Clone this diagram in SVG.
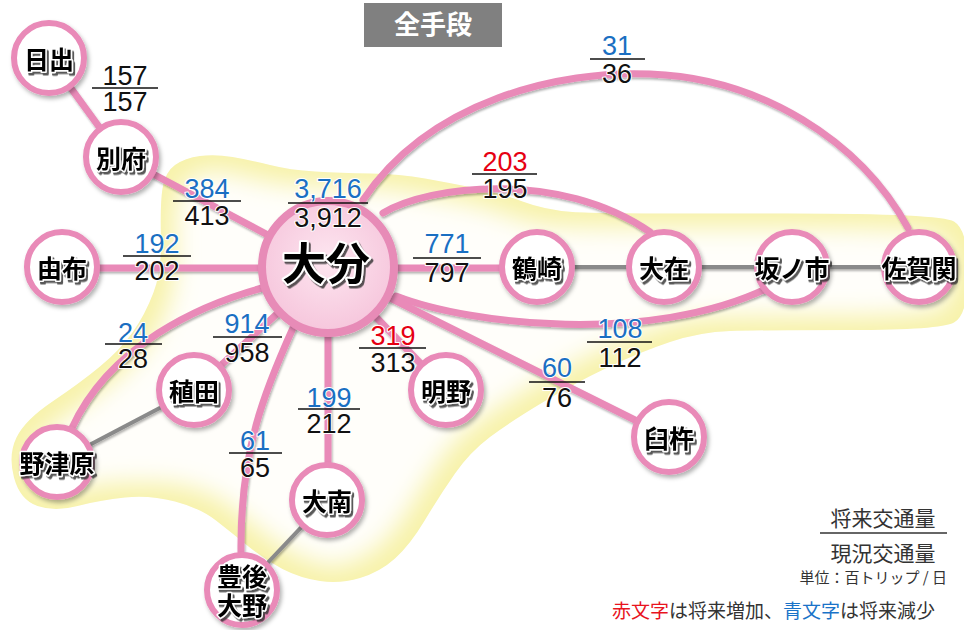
<svg xmlns="http://www.w3.org/2000/svg" width="964" height="630" viewBox="0 0 964 630">
<defs>
<style>
.pe{fill:none;stroke:#e98ab8;stroke-width:7;stroke-linecap:round}
.ge{fill:none;stroke:#8a8a8a;stroke-width:4}
.nc{fill:#fff;stroke:#e98ab8;stroke-width:6}
.nt{font-family:"Noto Sans CJK JP","Noto Sans CJK SC",sans-serif;font-weight:700;font-size:25px;fill:#000;stroke:#fff;stroke-width:3;paint-order:stroke;stroke-linejoin:round;text-anchor:middle}
.v{font-family:"Liberation Sans",Arial,sans-serif;font-size:27px;text-anchor:middle;stroke:#fff;stroke-width:2;paint-order:stroke;stroke-linejoin:round}
.b{fill:#1a6fc2}.r{fill:#e60012}.k{fill:#111}
.fl{stroke:#111;stroke-width:1.6}
.lg{font-family:"Noto Sans CJK JP","Noto Sans CJK SC",sans-serif;fill:#333}
</style>
<path id="blob" d="M162.5,188.5 Q165,172 175,165 Q185,158 200,156 Q215,154 232.5,157 Q250,160 270,165 Q290,170 315,171.5 Q340,173 370,173.5 Q400,174 425,178.5 Q450,183 475,188 Q500,193 522.5,201.5 Q545,210 572.5,212 Q600,214 770,213.5 Q940,213 954,221.5 Q968,230 968,272.5 Q968,315 954,322.5 Q940,330 850,330 Q760,330 730,331 Q700,332 670,342 Q640,352 607.5,367.5 Q575,383 542.5,402.5 Q510,422 490,437 Q470,452 455,473.5 Q440,495 425,520 Q410,545 395,558.5 Q380,572 360,578 Q340,584 320,581 Q300,578 282.5,569 Q265,560 248.5,546.5 Q232,533 216,520.5 Q200,508 175,501.5 Q150,495 125,497.5 Q100,500 77.5,506 Q55,512 37.5,506 Q20,500 14,477.5 Q8,455 16.5,437.5 Q25,420 52.5,401.5 Q80,383 100,366.5 Q120,350 132.5,332.5 Q145,315 153.5,292.5 Q162,270 161,237.5 Q160,205 162.5,188.5 Z"/>
<clipPath id="blobclip"><use href="#blob"/></clipPath>
<filter id="inner" x="-10%" y="-10%" width="120%" height="120%">
<feMorphology operator="erode" radius="14"/>
<feGaussianBlur stdDeviation="12"/>
</filter>
<filter id="eshadow" x="-5%" y="-5%" width="110%" height="110%">
<feDropShadow dx="1" dy="2" stdDeviation="1" flood-color="#000" flood-opacity="0.3"/>
</filter>
<filter id="cshadow" x="-20%" y="-20%" width="140%" height="140%">
<feDropShadow dx="2" dy="3" stdDeviation="2" flood-color="#000" flood-opacity="0.3"/>
</filter>
<filter id="tshadow" x="-10%" y="-20%" width="130%" height="150%">
<feDropShadow dx="2" dy="2.5" stdDeviation="0.7" flood-color="#333" flood-opacity="0.8"/>
</filter>
<radialGradient id="oita" cx="50%" cy="45%" r="55%">
<stop offset="0" stop-color="#fde6f0"/>
<stop offset="1" stop-color="#f6c6dc"/>
</radialGradient>
</defs>

<rect width="964" height="630" fill="#fff"/>

<g id="area">
<use href="#blob" fill="#f7f2aa"/>
<use href="#blob" fill="#fffefa" filter="url(#inner)" clip-path="url(#blobclip)"/>
</g>

<g id="title">
<rect x="364" y="3" width="138" height="44" fill="#808080"/>
<text x="433" y="34" font-family="Noto Sans CJK JP, sans-serif" font-weight="700" font-size="26" fill="#fff" text-anchor="middle">全手段</text>
</g>

<g id="connectors">
<g filter="url(#eshadow)">
<line class="pe" x1="49" y1="58" x2="121" y2="157"/>
<line class="pe" x1="121" y1="157" x2="328" y2="267"/>
<line class="pe" x1="62" y1="268" x2="328" y2="268"/>
<line class="pe" x1="328" y1="268" x2="537" y2="268"/>
<path class="pe" d="M383,213 C430,185 560,170 650,232"/>
<path class="pe" d="M363,200 C430,100 560,70 650,74 C760,78 860,140 908,228"/>
<path class="pe" d="M396,296 C470,325 650,345 768,288"/>
<line class="pe" x1="328" y1="267" x2="669" y2="437"/>
<line class="pe" x1="328" y1="267" x2="446" y2="390"/>
<line class="pe" x1="328" y1="267" x2="328" y2="500"/>
<path class="pe" d="M293,328 C265,390 240,450 241,552"/>
<line class="pe" x1="328" y1="267" x2="194" y2="390"/>
<path class="pe" d="M262,288 C200,305 110,345 72,428"/>
<line class="ge" x1="537" y1="267" x2="919" y2="267"/>
<line class="ge" x1="194" y1="390" x2="57" y2="462"/>
<line class="ge" x1="327" y1="500" x2="242" y2="590"/>
</g>
</g>

<g id="node-hiji"><circle class="nc" cx="49" cy="58" r="35" filter="url(#cshadow)"/><text class="nt" x="49" y="69" filter="url(#tshadow)">日出</text></g>
<g id="node-beppu"><circle class="nc" cx="121" cy="157" r="35" filter="url(#cshadow)"/><text class="nt" x="121" y="168" filter="url(#tshadow)">別府</text></g>
<g id="node-yufu"><circle class="nc" cx="62" cy="267" r="35" filter="url(#cshadow)"/><text class="nt" x="62" y="278" filter="url(#tshadow)">由布</text></g>
<g id="node-tsurusaki"><circle class="nc" cx="537" cy="267" r="35" filter="url(#cshadow)"/><text class="nt" x="537" y="278" filter="url(#tshadow)">鶴崎</text></g>
<g id="node-ozai"><circle class="nc" cx="664" cy="267" r="35" filter="url(#cshadow)"/><text class="nt" x="664" y="278" filter="url(#tshadow)">大在</text></g>
<g id="node-sakanoichi"><circle class="nc" cx="792" cy="267" r="35" filter="url(#cshadow)"/><text class="nt" x="792" y="278" filter="url(#tshadow)">坂ノ市</text></g>
<g id="node-saganoseki"><circle class="nc" cx="919" cy="267" r="35" filter="url(#cshadow)"/><text class="nt" x="919" y="278" filter="url(#tshadow)">佐賀関</text></g>
<g id="node-wasada"><circle class="nc" cx="194" cy="390" r="35" filter="url(#cshadow)"/><text class="nt" x="194" y="401" filter="url(#tshadow)">稙田</text></g>
<g id="node-notsuharu"><circle class="nc" cx="57" cy="462" r="35" filter="url(#cshadow)"/><text class="nt" x="57" y="473" filter="url(#tshadow)">野津原</text></g>
<g id="node-onan"><circle class="nc" cx="327" cy="500" r="35" filter="url(#cshadow)"/><text class="nt" x="327" y="511" filter="url(#tshadow)">大南</text></g>
<g id="node-bungoono"><circle class="nc" cx="242" cy="590" r="35" filter="url(#cshadow)"/><text class="nt" x="242" y="586" filter="url(#tshadow)">豊後</text><text class="nt" x="242" y="615" filter="url(#tshadow)">大野</text></g>
<g id="node-akeno"><circle class="nc" cx="446" cy="390" r="35" filter="url(#cshadow)"/><text class="nt" x="446" y="401" filter="url(#tshadow)">明野</text></g>
<g id="node-usuki"><circle class="nc" cx="669" cy="437" r="35" filter="url(#cshadow)"/><text class="nt" x="669" y="448" filter="url(#tshadow)">臼杵</text></g>
<g id="node-oita"><circle cx="328" cy="267" r="66" fill="url(#oita)" stroke="#e78bb7" stroke-width="8" filter="url(#cshadow)"/><text class="nt" x="326" y="280" font-size="44" style="font-size:44px;stroke-width:4" filter="url(#tshadow)">大分</text></g>

<g id="labels">
<g><text class="v k" x="125" y="85">157</text><line class="fl" x1="92" y1="88" x2="158" y2="88"/><text class="v k" x="125" y="111">157</text></g>
<g><text class="v b" x="207" y="198">384</text><line class="fl" x1="173" y1="201" x2="241" y2="201"/><text class="v k" x="207" y="225">413</text></g>
<g><text class="v b" x="157" y="253">192</text><line class="fl" x1="123" y1="256" x2="191" y2="256"/><text class="v k" x="157" y="280">202</text></g>
<g><text class="v b" x="328" y="198">3,716</text><line class="fl" x1="288" y1="203" x2="368" y2="203"/><text class="v k" x="328" y="227">3,912</text></g>
<g><text class="v b" x="447" y="253">771</text><line class="fl" x1="413" y1="258" x2="481" y2="258"/><text class="v k" x="447" y="282">797</text></g>
<g><text class="v r" x="505" y="171">203</text><line class="fl" x1="472" y1="174" x2="537" y2="174"/><text class="v k" x="505" y="198">195</text></g>
<g><text class="v b" x="617" y="55">31</text><line class="fl" x1="590" y1="59" x2="645" y2="59"/><text class="v k" x="617" y="83">36</text></g>
<g><text class="v r" x="393" y="345">319</text><line class="fl" x1="359" y1="348" x2="426" y2="348"/><text class="v k" x="393" y="372">313</text></g>
<g><text class="v b" x="620" y="338">108</text><line class="fl" x1="587" y1="342" x2="652" y2="342"/><text class="v k" x="620" y="367">112</text></g>
<g><text class="v b" x="557" y="377">60</text><line class="fl" x1="529" y1="382" x2="585" y2="382"/><text class="v k" x="557" y="407">76</text></g>
<g><text class="v b" x="133" y="342">24</text><line class="fl" x1="105" y1="344" x2="162" y2="344"/><text class="v k" x="133" y="368">28</text></g>
<g><text class="v b" x="247" y="333">914</text><line class="fl" x1="213" y1="337" x2="282" y2="337"/><text class="v k" x="247" y="362">958</text></g>
<g><text class="v b" x="329" y="407">199</text><line class="fl" x1="298" y1="409" x2="360" y2="409"/><text class="v k" x="329" y="433">212</text></g>
<g><text class="v b" x="255" y="450">61</text><line class="fl" x1="229" y1="453" x2="282" y2="453"/><text class="v k" x="255" y="477">65</text></g>
</g>

<g id="legend">
<text class="lg" x="883" y="526" font-size="21" text-anchor="middle">将来交通量</text>
<line x1="820" y1="533" x2="947" y2="533" stroke="#333" stroke-width="1.5"/>
<text class="lg" x="883" y="561" font-size="21" text-anchor="middle">現況交通量</text>
<text class="lg" x="947" y="583" font-size="15" text-anchor="end" fill="#444">単位：百トリップ / 日</text>
<text class="lg" x="612" y="618" font-size="19"><tspan fill="#e8141e">赤文字</tspan>は将来増加、<tspan fill="#1a73c8">青文字</tspan>は将来減少</text>
</g>
</svg>
